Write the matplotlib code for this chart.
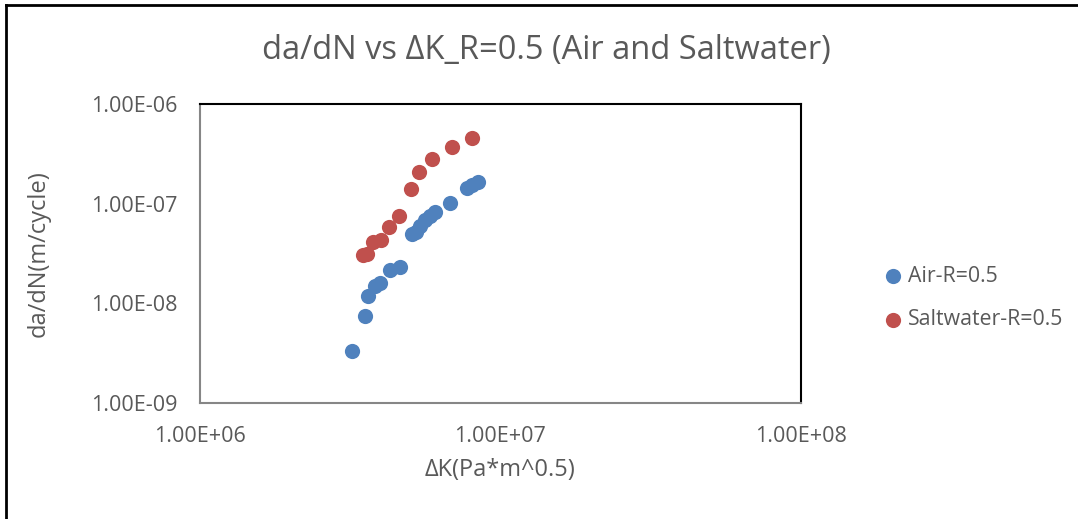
import matplotlib.pyplot as plt
from matplotlib.lines import Line2D

# dK (Pa*m^0.5) and da/dN (m/cycle)
air_dk = [3.21e6, 3.55e6, 3.64e6, 3.83e6, 3.99e6, 4.30e6, 4.65e6,
          5.08e6, 5.25e6, 5.41e6, 5.63e6, 5.85e6, 6.07e6, 6.81e6,
          7.76e6, 8.06e6, 8.44e6]
air_dadn = [3.27e-9, 7.49e-9, 1.19e-8, 1.47e-8, 1.59e-8, 2.15e-8, 2.33e-8,
            4.95e-8, 5.19e-8, 5.96e-8, 6.84e-8, 7.51e-8, 8.24e-8, 1.01e-7,
            1.42e-7, 1.54e-7, 1.65e-7]

salt_dk = [3.51e6, 3.62e6, 3.79e6, 4.02e6, 4.27e6, 4.60e6, 5.04e6,
           5.39e6, 5.95e6, 6.92e6, 8.08e6]
salt_dadn = [3.07e-8, 3.12e-8, 4.14e-8, 4.31e-8, 5.86e-8, 7.46e-8, 1.39e-7,
             2.06e-7, 2.82e-7, 3.67e-7, 4.59e-7]

xticks = [1e6, 1e7, 1e8]
xtick_labels = ["1.00E+06", "1.00E+07", "1.00E+08"]
yticks = [1e-9, 1e-8, 1e-7, 1e-6]
ytick_labels = ["1.00E-09", "1.00E-08", "1.00E-07", "1.00E-06"]

txt = "#595959"
plt.rcParams["font.family"] = ["Open Sans", "DejaVu Sans"]

fig = plt.figure(figsize=(10.78, 5.19), dpi=100)
ax = fig.add_axes([0.1851, 0.2241, 0.5577, 0.5755])

ax.scatter(air_dk, air_dadn, s=120, color="#4F81BD", label="Air-R=0.5",
           linewidths=0, zorder=3)
ax.scatter(salt_dk, salt_dadn, s=120, color="#C0504D",
           label="Saltwater-R=0.5", linewidths=0, zorder=3)

ax.set_xscale("log")
ax.set_yscale("log")
ax.set_xlim(1e6, 1e8)
ax.set_ylim(1e-9, 1e-6)
ax.set_xticks(xticks)
ax.set_xticklabels(xtick_labels)
ax.set_yticks(yticks)
ax.set_yticklabels(ytick_labels)
ax.minorticks_off()
ax.tick_params(length=0, labelsize=15.5, colors=txt)
ax.tick_params(axis="x", pad=16.5)
ax.tick_params(axis="y", pad=16)

for side in ["left", "bottom"]:
    ax.spines[side].set_color("#868686")
    ax.spines[side].set_linewidth(1.5)
for side in ["top", "right"]:
    ax.spines[side].set_color("black")
    ax.spines[side].set_linewidth(1.5)

ax.set_xlabel("ΔK(Pa*m^0.5)", fontsize=17, color=txt, labelpad=8)
ax.set_ylabel("da/dN(m/cycle)", fontsize=17, color=txt, labelpad=29)
fig.text(0.507, 0.903, "da/dN vs ΔK_R=0.5 (Air and Saltwater)",
         fontsize=23.5, color=txt, ha="center", va="center")

ax.legend(loc="center left", bbox_to_anchor=(0.8188, 0.4258),
          bbox_transform=fig.transFigure, frameon=False, fontsize=15.3,
          labelcolor=txt, handlelength=1.0, handletextpad=0.17,
          labelspacing=1.05, borderpad=0, borderaxespad=0)

# chart outer border (left and top edges visible)
fig.add_artist(Line2D([0.0055, 0.0055], [0, 0.99], color="black", lw=2))
fig.add_artist(Line2D([0.0055, 1], [0.99, 0.99], color="black", lw=2))

fig.savefig("out.png", dpi=100)
